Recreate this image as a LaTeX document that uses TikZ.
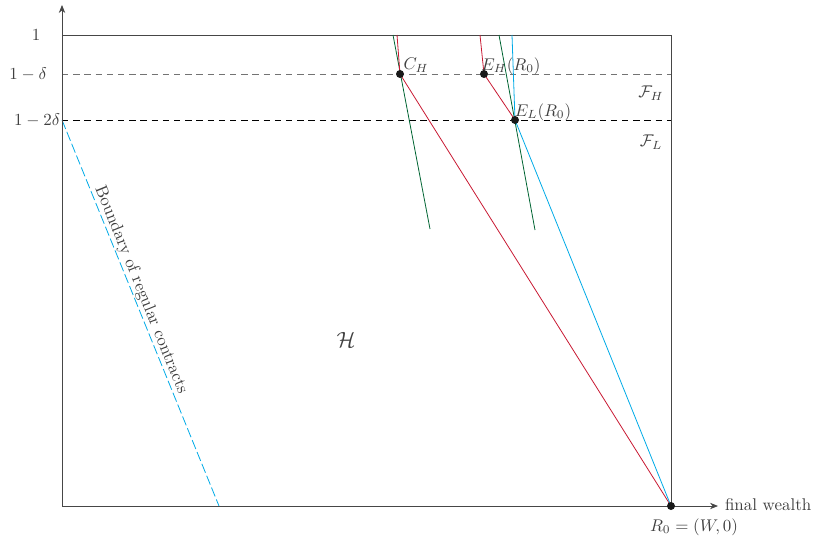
\documentclass[tikz,border=0pt]{standalone}
\usetikzlibrary{arrows.meta}
\definecolor{cred}{RGB}{200,25,50}
\definecolor{cgreen}{RGB}{0,100,50}
\definecolor{cblue}{RGB}{0,170,230}
\definecolor{caxis}{RGB}{70,70,70}
\begin{document}
\begin{tikzpicture}[x=0.625pt,y=-0.625pt,
  axisline/.style={draw=caxis,line width=0.5pt,-{Stealth[length=5pt,width=4pt]}},
  boxline/.style={draw=caxis,line width=0.5pt},
  redline/.style={draw=cred,line width=0.5pt},
  greenline/.style={draw=cgreen,line width=0.5pt},
  blueline/.style={draw=cblue,line width=0.5pt},
  dot/.style={circle,fill=black!90,inner sep=0pt,minimum size=5pt},
  lbl/.style={inner sep=1pt,text=black!75,scale=1.06}]
\useasboundingbox (0,0) rectangle (814,544);
% coordinates
\coordinate (O) at (62,506);
\coordinate (Yt) at (62,5);
\coordinate (Xt) at (718,506);
\coordinate (TL) at (62,35);
\coordinate (TR) at (671,35);
\coordinate (D1L) at (62,74);
\coordinate (D1R) at (671,74);
\coordinate (D2L) at (62,120);
\coordinate (D2R) at (671,120);
\coordinate (BB) at (219,506);
\coordinate (r1) at (397,35);
\coordinate (r2) at (480,35);
\coordinate (b1) at (512,35);
\coordinate (g1a) at (393,35);
\coordinate (g1b) at (430,229);
\coordinate (g2a) at (499,35);
\coordinate (g2b) at (535,230);
% box and dashed lines
\draw[boxline] (TL) -- (TR) -- (671,506);
\draw[draw=black!55,line width=0.6pt,dash pattern=on 4pt off 3pt] (D1L) -- (D1R);
\draw[draw=black,line width=0.45pt,dash pattern=on 4pt off 3pt] (D2L) -- (D2R);
% boundary
\draw[blueline,dash pattern=on 6pt off 2pt] (D2L) -- (BB);
\node[lbl,rotate=-67.9] (bnd) at (141,290) {Boundary of regular contracts};
% curves
\coordinate (CH) at (400,74);
\coordinate (EH) at (484,74);
\coordinate (EL) at (515,120);
\coordinate (R0) at (671,506);
\draw[greenline] (g1a) -- (g1b);
\draw[greenline] (g2a) -- (g2b);
\draw[redline] (r1) -- (CH) -- (R0);
\draw[redline] (r2) -- (EH) -- (EL);
\draw[blueline] (b1) -- (EL) -- (R0);
% axes
\draw[axisline] (O) -- (Yt);
\draw[axisline] (O) -- (Xt);
\node[dot] (dCH) at (CH) {};
\node[dot] (dEH) at (EH) {};
\node[dot] (dEL) at (EL) {};
\node[dot] (dR0) at (R0) {};
% labels
\node[lbl] (l1) at (36,35) {$1$};
\node[lbl] (l2) at (28,74) {$1-\delta$};
\node[lbl,anchor=east] (l3) at (62,120) {$1-2\delta$};
\node[lbl] (lch) at (416,65) {$C_H$};
\node[lbl] (leh) at (511,66) {$E_H(R_0)$};
\node[lbl] (lel) at (543,112) {$E_L(R_0)$};
\node[lbl] (lfh) at (651,93) {$\mathcal{F}_H$};
\node[lbl] (lfl) at (651,142) {$\mathcal{F}_L$};
\node[lbl,scale=1.3] (lh) at (346,340) {$\mathcal{H}$};
\node[lbl,anchor=west] (lfw) at (723,505) {final wealth};
\node[lbl] (lr0) at (694,527) {$R_0=(W,0)$};
\end{tikzpicture}
\end{document}
